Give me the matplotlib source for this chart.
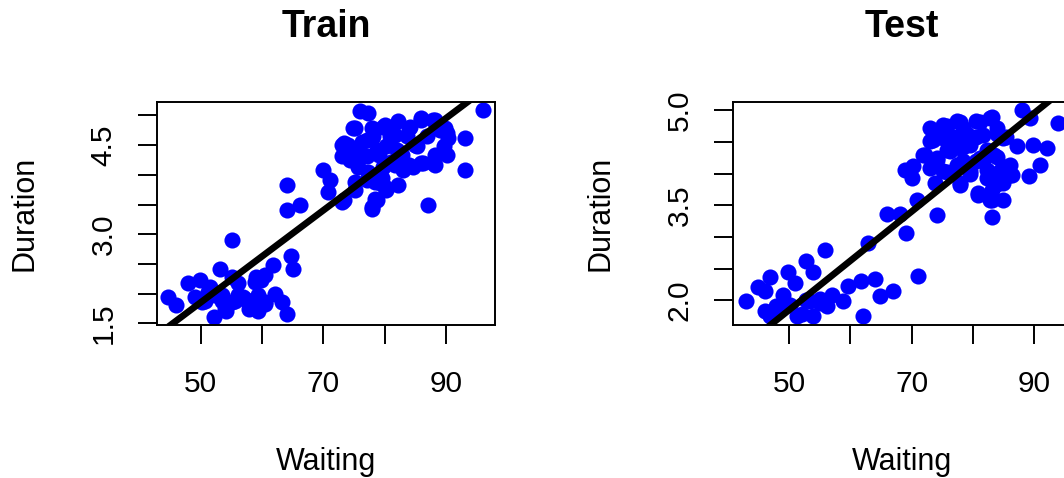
import matplotlib
matplotlib.use("Agg")
import matplotlib.pyplot as plt

plt.rcParams['font.family'] = 'Liberation Sans'

# eruption waiting time (min) and duration (min), train / test halves
train_waiting = [
    44.7, 45.9, 48.0, 49.9, 49.1, 53.1, 52.1, 54.0, 55.1, 55.1, 56.1, 57.2,
    58.9, 59.4, 59.9, 59.1, 60.5, 62.1, 63.2, 64.0, 61.8, 64.8, 65.1, 51.2,
    52.3, 53.4, 50.2, 55.1, 57.8, 58.9, 60.5, 51.5, 52.6, 53.4, 55.6, 56.9,
    58.3, 59.4, 56.1, 57.8, 60.5, 50.7, 54.2,
    64.0, 64.0, 66.2, 70.0, 71.1, 70.8, 73.0, 75.2, 77.9, 78.4, 80.1, 82.2,
    87.0,
    73.0, 73.0, 75.2, 76.0, 77.3, 77.9, 80.1, 82.2, 83.9, 86.0, 88.2, 89.8,
    90.4, 93.1, 93.1, 96.1, 90.1, 88.2, 88.2, 86.0, 83.9, 81.7, 82.8, 85.0,
    80.6, 77.9, 76.3, 76.3, 75.7, 77.3, 79.0, 79.5, 75.2, 74.1, 78.4, 81.1,
    80.6, 81.7,
    74.9, 73.3, 73.3, 77.1, 78.1, 79.8, 84.1, 86.0, 87.9, 89.0, 90.1, 89.6,
    87.9, 86.3, 84.7, 83.0, 82.0, 80.3, 78.7, 77.1, 79.2, 80.3, 78.7, 77.9,
    79.8, 82.5, 85.2, 86.9, 83.6, 80.9, 77.1, 75.4, 74.3,
]
train_duration = [
    1.94, 1.81, 2.17, 2.22, 1.94, 2.42, 1.60, 1.74, 2.90, 2.28, 1.97, 1.91,
    1.80, 1.97, 2.22, 2.28, 1.86, 2.00, 1.86, 1.66, 2.48, 2.64, 2.42, 2.02,
    1.97, 1.97, 1.86, 1.86, 1.74, 2.19, 2.31, 2.11, 2.00, 1.88, 1.88, 1.94,
    1.77, 1.71, 2.17, 1.83, 1.83, 1.88, 1.71,
    3.83, 3.41, 3.49, 4.08, 3.91, 3.71, 3.55, 3.74, 3.43, 3.60, 3.80, 3.83,
    3.49,
    4.50, 4.31, 4.79, 5.07, 5.04, 4.79, 4.84, 4.90, 4.79, 4.93, 4.93, 4.79,
    4.62, 4.62, 4.08, 5.10, 4.34, 4.34, 4.17, 4.20, 4.17, 4.17, 4.34, 4.50,
    4.50, 4.62, 4.56, 4.34, 4.14, 4.05, 4.34, 3.94, 3.88, 4.50, 3.88, 4.22,
    4.79, 4.67,
    4.79, 4.53, 3.57, 4.31, 4.65, 4.81, 4.81, 4.96, 4.93, 4.76, 4.70, 4.48,
    4.20, 4.20, 4.14, 4.08, 4.42, 4.48, 4.42, 3.91, 3.86, 3.74, 3.57, 3.46,
    4.14, 4.25, 4.48, 4.65, 4.65, 4.65, 4.59, 4.42, 4.25,
]

test_waiting = [
    42.9, 44.9, 46.0, 46.8, 46.0, 46.8, 48.5, 49.0, 49.8, 50.9, 52.0, 52.8,
    53.9, 53.9, 53.4, 55.0, 55.8, 56.9, 58.8, 59.6, 61.8, 64.0, 62.0, 64.8,
    67.0, 71.1, 47.9, 50.1, 52.8, 55.0, 56.1, 51.2,
    62.9, 65.9, 68.1, 69.1, 70.9, 74.1, 68.9, 70.0, 70.2, 72.2, 73.8, 73.0,
    73.0,
    75.2, 77.4, 78.4, 75.2, 77.4, 76.3, 77.9, 79.5, 78.4, 80.6, 82.8, 83.9,
    81.7, 85.0, 87.2, 89.9, 92.1, 91.0, 89.1, 88.0, 89.3, 94.0, 86.1, 86.1,
    83.9, 82.3, 80.9, 83.1, 85.0, 83.1, 77.9, 75.2, 73.0, 79.5, 81.7, 83.4,
    84.4, 74.1, 80.6, 78.4, 74.1,
    75.7, 77.9, 81.2, 83.1, 80.6, 83.9, 85.5, 85.0, 83.1, 82.8, 80.9, 77.9,
    71.9, 74.1, 75.7, 78.4, 81.2, 82.3, 79.5, 77.4, 75.7, 73.5, 76.8, 79.0,
    82.3, 83.9, 85.5, 86.4,
]
test_duration = [
    1.99, 2.21, 2.15, 2.37, 1.83, 1.75, 1.88, 2.09, 2.44, 2.28, 1.78, 2.62,
    2.44, 1.75, 1.99, 2.02, 2.80, 2.09, 1.99, 2.23, 2.31, 2.33, 1.75, 2.07,
    2.14, 2.38, 1.91, 1.93, 2.01, 1.96, 1.91, 1.75,
    2.91, 3.37, 3.36, 3.07, 3.58, 3.34, 4.06, 3.93, 4.12, 4.30, 3.85, 4.72,
    4.51,
    4.77, 4.83, 4.72, 4.56, 4.56, 4.35, 4.40, 4.46, 4.20, 4.83, 4.88, 4.72,
    4.61, 4.56, 4.43, 4.46, 4.40, 4.14, 3.96, 5.01, 4.88, 4.80, 4.14, 3.98,
    3.83, 3.93, 3.70, 3.59, 3.59, 3.31, 3.85, 4.04, 4.09, 4.04, 4.20, 4.30,
    4.04, 4.25, 4.20, 4.56, 4.67,
    4.76, 4.82, 4.82, 4.90, 4.58, 4.63, 4.58, 3.85, 3.74, 3.58, 3.66, 3.82,
    4.29, 4.21, 4.37, 4.42, 4.24, 4.06, 4.00, 4.13, 4.03, 4.53, 4.58, 4.63,
    4.37, 4.27, 4.11, 3.98,
]

# regression line fitted on the training half
fit_intercept = -2.03
fit_slope = 0.0776

x_ticks = [50, 60, 70, 80, 90]
x_labels = ['50', '', '70', '', '90']
train_yticks = [1.5, 2.0, 2.5, 3.0, 3.5, 4.0, 4.5, 5.0]
train_ylabels = ['1.5', '', '', '3.0', '', '', '4.5', '']
test_yticks = [2.0, 2.5, 3.0, 3.5, 4.0, 4.5, 5.0]
test_ylabels = ['2.0', '', '', '3.5', '', '', '5.0']

fig = plt.figure(figsize=(10.64, 4.78), dpi=100)


def panel(left, xs, ys, title, xlim, ylim, yticks, ylabels):
    ax = fig.add_axes([left, 0.3211, 0.3174, 0.4655])
    ax.plot(xs, ys, 'o', color='blue', ms=11.6, mew=0)
    ax.axline((0, fit_intercept), slope=fit_slope, color='black', lw=4.8)
    ax.set_xlim(*xlim)
    ax.set_ylim(*ylim)
    ax.set_xticks(x_ticks)
    ax.set_xticklabels(x_labels)
    ax.set_yticks(yticks)
    ax.set_yticklabels(ylabels)
    for s in ax.spines.values():
        s.set_linewidth(1.4)
    ax.tick_params(length=13.7, width=1.4, labelsize=21.5, pad=19)
    ax.tick_params(axis='y', pad=15)
    for lab in ax.get_yticklabels():
        lab.set_rotation(90)
        lab.set_va('center')
    ax.set_title(title, fontsize=27, fontweight='bold', pad=46.8)
    ax.annotate('Waiting', xy=(0.5, 0), xycoords='axes fraction',
                xytext=(0, -104.8), textcoords='offset points',
                ha='center', va='baseline', fontsize=22)
    ax.annotate('Duration', xy=(0, 0.5), xycoords='axes fraction',
                xytext=(-95.8, 0), textcoords='offset points',
                ha='center', va='center', rotation=90, fontsize=22)
    return ax


panel(0.1478, train_waiting, train_duration, 'Train',
      (42.92, 97.99), (1.478, 5.227), train_yticks, train_ylabels)
panel(0.6892, test_waiting, test_duration, 'Test',
      (40.85, 96.05), (1.618, 5.131), test_yticks, test_ylabels)

fig.savefig('out.png', dpi=100)
